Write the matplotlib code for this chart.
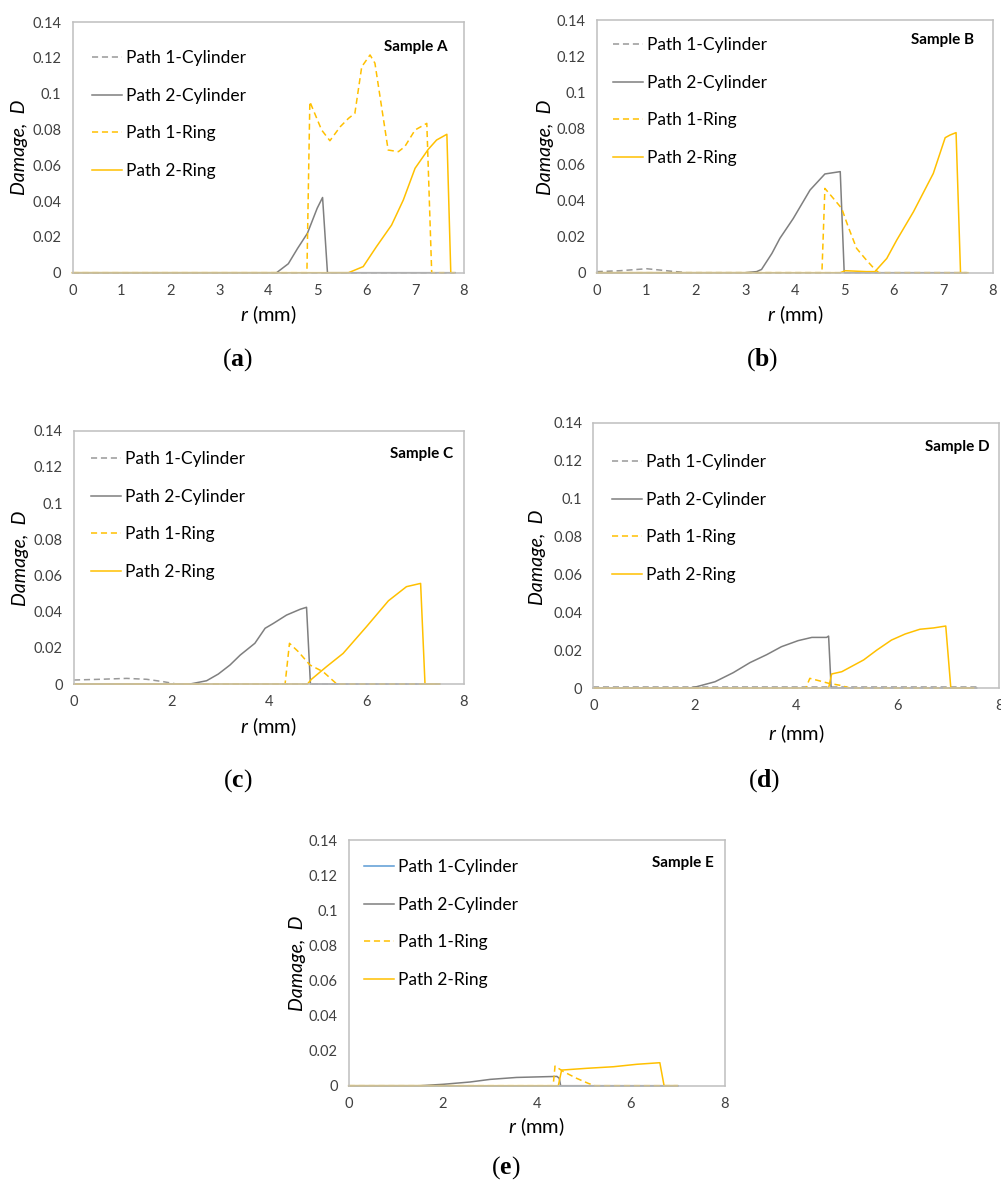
import matplotlib
matplotlib.use("Agg")
import matplotlib.pyplot as plt

W, H = 1001, 1185

plt.rcParams["font.family"] = ["Lato", "DejaVu Sans"]
plt.rcParams["mathtext.fontset"] = "custom"
plt.rcParams["mathtext.rm"] = "Lato"
plt.rcParams["mathtext.it"] = "Lato:italic"
plt.rcParams["mathtext.bf"] = "Liberation Serif:bold"

SERIES_LABELS = ["Path 1-Cylinder", "Path 2-Cylinder", "Path 1-Ring", "Path 2-Ring"]
Y_TICKS = [0, 0.02, 0.04, 0.06, 0.08, 0.10, 0.12, 0.14]
Y_TICK_LABELS = ["0", "0.02", "0.04", "0.06", "0.08", "0.1", "0.12", "0.14"]

# Sample A
a_cyl1_r = [0, 7.8]
a_cyl1_d = [0, 0]
a_cyl2_r = [0, 4.17, 4.41, 4.6, 4.8, 5.0, 5.11, 5.21, 7.82]
a_cyl2_d = [0, 0, 0.005, 0.0136, 0.022, 0.036, 0.042, 0, 0]
a_ring1_r = [0, 4.79, 4.85, 5.09, 5.26, 5.47, 5.64, 5.77, 5.91, 6.08, 6.18, 6.45, 6.66, 6.79, 7.0, 7.24, 7.34, 7.6]
a_ring1_d = [0, 0, 0.0955, 0.0797, 0.0737, 0.0815, 0.0862, 0.089, 0.115, 0.1216, 0.117, 0.0685, 0.0676, 0.0704, 0.0797, 0.0834, 0, 0]
a_ring2_r = [0, 5.64, 5.94, 6.21, 6.52, 6.76, 7.0, 7.27, 7.44, 7.65, 7.73, 7.8]
a_ring2_d = [0, 0, 0.0034, 0.0145, 0.0266, 0.0406, 0.0583, 0.0689, 0.0741, 0.0773, 0, 0]

# Sample B
b_cyl1_r = [0, 0.47, 1.01, 1.41, 1.82, 7.47]
b_cyl1_d = [0.0006, 0.0011, 0.0022, 0.0011, 0, 0]
b_cyl2_r = [0, 3.0, 3.23, 3.33, 3.54, 3.7, 3.97, 4.31, 4.61, 4.92, 5.0, 7.47]
b_cyl2_d = [0, 0, 0.0006, 0.0018, 0.0107, 0.019, 0.03, 0.0458, 0.0547, 0.056, 0, 0]
b_ring1_r = [0, 4.55, 4.61, 4.78, 4.95, 5.08, 5.25, 5.42, 5.62, 5.7, 7.4]
b_ring1_d = [0, 0, 0.0467, 0.0412, 0.0356, 0.0255, 0.0135, 0.0079, 0.0018, 0, 0]
b_ring2_r = [0, 4.92, 5.02, 5.45, 5.62, 5.86, 6.06, 6.4, 6.8, 7.04, 7.14, 7.26, 7.35, 7.5]
b_ring2_d = [0, 0, 0.0011, 0.0006, 0.0006, 0.0079, 0.018, 0.0338, 0.055, 0.0748, 0.0763, 0.0776, 0, 0]

# Sample C
c_cyl1_r = [0, 0.53, 1.08, 1.49, 1.83, 2.1, 7.5]
c_cyl1_d = [0.0022, 0.0026, 0.0031, 0.0026, 0.0013, 0, 0]
c_cyl2_r = [0, 2.38, 2.72, 2.96, 3.2, 3.41, 3.71, 3.92, 4.09, 4.36, 4.64, 4.77, 4.85, 7.5]
c_cyl2_d = [0, 0, 0.0018, 0.0055, 0.0105, 0.016, 0.0225, 0.0308, 0.0335, 0.0381, 0.0413, 0.0424, 0, 0]
c_ring1_r = [0, 4.33, 4.42, 4.6, 4.84, 5.11, 5.39, 7.5]
c_ring1_d = [0, 0, 0.0225, 0.0179, 0.0105, 0.0068, 0, 0]
c_ring2_r = [0, 4.79, 4.87, 5.18, 5.52, 6.0, 6.45, 6.82, 7.11, 7.2, 7.5]
c_ring2_d = [0, 0, 0.0026, 0.0096, 0.0169, 0.0317, 0.046, 0.0538, 0.0556, 0, 0]

# Sample D
d_cyl1_r = [0, 7.56]
d_cyl1_d = [0.0004, 0.0004]
d_cyl2_r = [0, 1.9, 2.04, 2.4, 2.76, 3.09, 3.42, 3.71, 4.04, 4.31, 4.6, 4.64, 4.69, 7.56]
d_cyl2_d = [0, 0, 0.0007, 0.0033, 0.0081, 0.0134, 0.0176, 0.0218, 0.025, 0.0267, 0.0267, 0.0274, 0, 0]
d_ring1_r = [0, 4.19, 4.27, 4.64, 4.87, 5.06, 7.5]
d_ring1_d = [0, 0, 0.0051, 0.0025, 0.0014, 0, 0]
d_ring2_r = [0, 4.64, 4.7, 4.9, 5.33, 5.59, 5.88, 6.15, 6.44, 6.71, 6.95, 7.05, 7.5]
d_ring2_d = [0, 0, 0.0074, 0.0086, 0.0148, 0.02, 0.0253, 0.0285, 0.031, 0.0317, 0.0327, 0, 0]

# Sample E
e_cyl1_r = [0, 7.0]
e_cyl1_d = [0, 0]
e_cyl2_r = [0, 1.52, 2.01, 2.58, 3.01, 3.57, 4.43, 4.48, 4.51, 7.0]
e_cyl2_d = [0, 0, 0.0008, 0.0021, 0.0036, 0.0047, 0.0053, 0.0042, 0, 0]
e_ring1_r = [0, 4.35, 4.39, 4.57, 4.85, 5.1, 5.24, 7.0]
e_ring1_d = [0, 0, 0.0112, 0.008, 0.0042, 0.0013, 0, 0]
e_ring2_r = [0, 4.46, 4.53, 5.06, 5.63, 6.13, 6.62, 6.71, 6.99]
e_ring2_d = [0, 0, 0.0089, 0.0099, 0.0108, 0.0122, 0.0131, 0, 0]

GRAY_DASH = "#999999"
GRAY = "#7f7f7f"
YELLOW = "#ffc000"
BLUE = "#5b9bd5"
DASH = (4, 2.5)

# layout in pixels: axes box (l, t, r, b), xtick step, xlabel, ylabel, panel tag, sample tag, legend top-left
PANELS = [
    dict(name="a", sample="Sample A", box=(72.5, 22, 464, 272.7), step=1,
         xlab=(268, 315), ylab=(20, 147), tag=(237, 360), stag=(448, 47), leg=(92, 50),
         series=[(a_cyl1_r, a_cyl1_d), (a_cyl2_r, a_cyl2_d), (a_ring1_r, a_ring1_d), (a_ring2_r, a_ring2_d)],
         cyl1_color=GRAY_DASH, cyl1_dash=True),
    dict(name="b", sample="Sample B", box=(596.7, 20, 992.7, 272.7), step=1,
         xlab=(795, 315), ylab=(545, 147), tag=(762, 360), stag=(974, 40), leg=(613, 37),
         series=[(b_cyl1_r, b_cyl1_d), (b_cyl2_r, b_cyl2_d), (b_ring1_r, b_ring1_d), (b_ring2_r, b_ring2_d)],
         cyl1_color=GRAY_DASH, cyl1_dash=True),
    dict(name="c", sample="Sample C", box=(74, 430.7, 464, 684), step=2,
         xlab=(268.5, 727), ylab=(21, 558), tag=(238, 781), stag=(453, 454), leg=(91, 451),
         series=[(c_cyl1_r, c_cyl1_d), (c_cyl2_r, c_cyl2_d), (c_ring1_r, c_ring1_d), (c_ring2_r, c_ring2_d)],
         cyl1_color=GRAY_DASH, cyl1_dash=True),
    dict(name="d", sample="Sample D", box=(593.3, 422.7, 999, 688), step=2,
         xlab=(796, 734), ylab=(538, 557), tag=(764, 781), stag=(990, 447), leg=(612, 454),
         series=[(d_cyl1_r, d_cyl1_d), (d_cyl2_r, d_cyl2_d), (d_ring1_r, d_ring1_d), (d_ring2_r, d_ring2_d)],
         cyl1_color=GRAY_DASH, cyl1_dash=True),
    dict(name="e", sample="Sample E", box=(348.7, 840, 724.7, 1085.7), step=2,
         xlab=(536.7, 1127), ylab=(297, 963), tag=(506, 1168), stag=(714, 863), leg=(364, 859),
         series=[(e_cyl1_r, e_cyl1_d), (e_cyl2_r, e_cyl2_d), (e_ring1_r, e_ring1_d), (e_ring2_r, e_ring2_d)],
         cyl1_color=BLUE, cyl1_dash=False),
]


def fx(x):
    return x / W


def fy(y):
    return 1 - y / H


def draw_panel(fig, p):
    l, t, r, b = p["box"]
    ax = fig.add_axes([fx(l), fy(b), (r - l) / W, (b - t) / H])
    colors = [p["cyl1_color"], GRAY, YELLOW, YELLOW]
    dashed = [p["cyl1_dash"], False, True, False]
    for (xs, ys), label, color, dash in zip(p["series"], SERIES_LABELS, colors, dashed):
        line, = ax.plot(xs, ys, color=color, lw=1.1, label=label, clip_on=False)
        if dash:
            line.set_dashes(DASH)
    ax.set_xlim(0, 8)
    ax.set_ylim(0, 0.14)
    ax.set_xticks(range(0, 9, p["step"]))
    ax.set_yticks(Y_TICKS)
    ax.set_yticklabels(Y_TICK_LABELS)
    ax.tick_params(length=0, labelsize=10.5, colors="#404040", pad=8)
    for spine in ax.spines.values():
        spine.set_color("#bfbfbf")
        spine.set_linewidth(1.1)

    lx, ly = p["leg"]
    ax.legend(loc="upper left", bbox_to_anchor=((lx - l) / (r - l), 1 - (ly - t) / (b - t)),
              frameon=False, fontsize=12.5, borderpad=0, borderaxespad=0,
              handlelength=1.75, handletextpad=0.2, labelspacing=1.25)

    fig.text(fx(p["xlab"][0]), fy(p["xlab"][1]), "$r$ (mm)", fontsize=14.5,
             ha="center", va="center")
    fig.text(fx(p["ylab"][0]), fy(p["ylab"][1]), "Damage,  D", fontsize=14, style="italic",
             rotation=90, ha="center", va="center")
    fig.text(fx(p["stag"][0]), fy(p["stag"][1]), p["sample"], fontsize=11, fontweight="bold",
             ha="right", va="center")
    fig.text(fx(p["tag"][0]), fy(p["tag"][1]), "(" + r"$\mathbf{" + p["name"] + "}$" + ")",
             fontsize=18.5, family="Liberation Serif", ha="center", va="center")
    return ax


fig = plt.figure(figsize=(W / 100, H / 100), dpi=100)
for panel in PANELS:
    draw_panel(fig, panel)
fig.savefig("out.png", dpi=100)
